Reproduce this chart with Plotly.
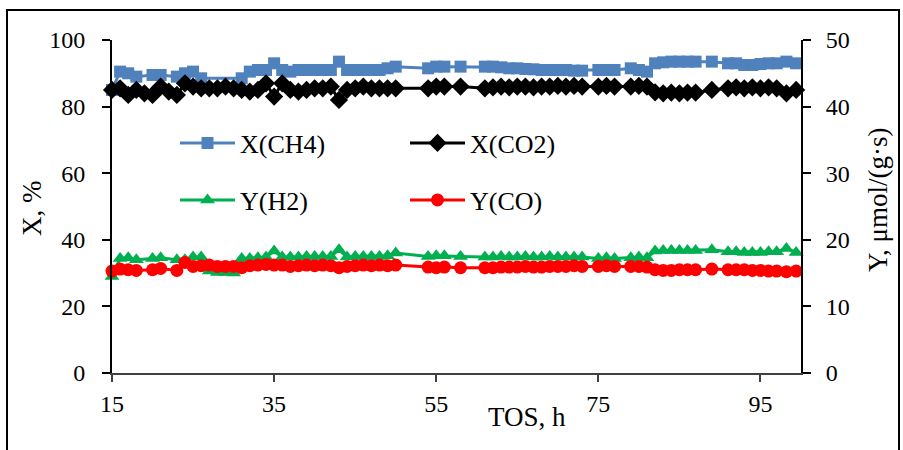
import plotly.graph_objects as go

# Time on stream (h)
tos = (list(range(15, 51)) + [54, 55, 56, 58] + list(range(61, 74)) + [75, 76, 77]
       + list(range(79, 88)) + [89] + list(range(91, 98)) + [98.2, 99.4])

# X(CH4), %  (left axis)
x_ch4 = ([85, 90.5, 90, 89, None, 89.5, 89.5, None, 89, 90, 90.5, 88.5, None, None, None, None,
          88.5, 90.5, 91, 91, 93, 91, 90.5, 91, 91, 91, 91, 91, 93.5, 91, 91, 91, 91, 91, 91.5, 92]
         + [91.5, 92, 92, 92]
         + [92, 92, 91.8, 91.5, 91.5, 91.3, 91.2, 91, 91, 91, 91, 90.8, 90.8]
         + [91, 91, 91]
         + [91.5, 91, 90.5, 93, 93.3, 93.5, 93.5, 93.5, 93.5]
         + [93.5]
         + [93, 93, 92.5, 92.5, 92.8, 93, 93]
         + [93.5, 93])

# X(CO2), %  (left axis)
x_co2 = ([85, 85.5, 83.5, 85, 84, 83.5, 86, 84.5, 83.5, 87, 86, 85.5, 85.5, 85.5, 86, 85.5,
          85, 84.5, 85, 87, 83, 87, 85, 84.5, 85, 85.5, 85.5, 86, 82, 85, 85.5, 86, 85.5, 85.5, 85.5, 85.5]
         + [85.5, 86, 86, 86]
         + [85.5, 85.8, 86, 85.8, 86, 86, 85.8, 86, 86, 86.2, 86, 86.2, 86]
         + [86, 86.2, 86]
         + [86, 86.2, 86, 84.3, 84, 84.2, 84, 84.2, 84.2]
         + [85]
         + [85.5, 85.8, 85.5, 85.8, 85.5, 85.8, 85.5]
         + [84, 85])

# Y(H2), umol/(g s)  (right axis)
y_h2 = ([14.5, 17.2, 17.3, 17.0, None, 17.2, 17.3, None, 17.0, 17.0, 17.4, 17.4, 15.3, 15.1, 15.1, 15.0,
         17.2, 17.2, 17.3, 17.4, 18.3, 17.4, 17.4, 17.4, 17.5, 17.5, 17.5, 17.5, 18.5, 17.4, 17.5, 17.5,
         17.5, 17.5, 17.6, 18.0]
        + [17.5, 17.6, 17.6, 17.5]
        + [17.4, 17.4, 17.5, 17.4, 17.4, 17.5, 17.4, 17.4, 17.5, 17.4, 17.4, 17.4, 17.4]
        + [17.2, 17.3, 17.2]
        + [17.3, 17.4, 17.3, 18.3, 18.4, 18.4, 18.4, 18.4, 18.4]
        + [18.5]
        + [18.2, 18.2, 18.1, 18.1, 18.1, 18.2, 18.2]
        + [18.7, 18.1])

# Y(CO), umol/(g s)  (right axis)
y_co = ([15.3, 15.6, 15.5, 15.4, None, 15.5, 15.7, None, 15.4, 16.6, 16.0, 16.1, 16.2, 16.0, 16.0, 16.0,
         15.8, 16.1, 16.2, 16.3, 16.2, 16.2, 16.0, 16.1, 16.2, 16.1, 16.2, 16.1, 15.8, 16.0, 16.1, 16.2,
         16.1, 16.2, 16.1, 16.2]
        + [15.9, 15.8, 15.9, 15.8]
        + [15.8, 15.8, 15.9, 15.9, 15.9, 16.0, 15.9, 15.9, 16.0, 16.0, 16.0, 16.1, 16.0]
        + [16.0, 16.1, 16.0]
        + [16.0, 16.0, 15.9, 15.5, 15.4, 15.4, 15.5, 15.5, 15.5]
        + [15.6]
        + [15.5, 15.5, 15.5, 15.4, 15.4, 15.3, 15.3]
        + [15.2, 15.3])

x_ticks = [15, 35, 55, 75, 95]
yl_ticks = [0, 20, 40, 60, 80, 100]
yr_ticks = [0, 10, 20, 30, 40, 50]

FONT = "Liberation Serif"

# plot-area pixel geometry
L, R, T, B = 112, 801, 40, 373
W, H = 903, 450
def px(p):
    return (p - L) / (R - L)
def py(p):
    return (B - p) / (B - T)

fig = go.Figure()
fig.add_trace(go.Scatter(x=tos, y=x_ch4, name="X(CH4)", mode="lines+markers", connectgaps=True,
                         line=dict(color="#4F81BD", width=3),
                         marker=dict(symbol="square", size=12, color="#4F81BD"),
                         cliponaxis=False, legend="legend"))
fig.add_trace(go.Scatter(x=tos, y=x_co2, name="X(CO2)", mode="lines+markers", connectgaps=True,
                         line=dict(color="#000000", width=3),
                         marker=dict(symbol="diamond", size=14, color="#000000"),
                         cliponaxis=False, legend="legend2"))
fig.add_trace(go.Scatter(x=tos, y=y_h2, name="Y(H2)", mode="lines+markers", connectgaps=True,
                         line=dict(color="#00B050", width=3),
                         marker=dict(symbol="triangle-up", size=13, color="#00B050"),
                         cliponaxis=False, yaxis="y2", legend="legend3"))
fig.add_trace(go.Scatter(x=tos, y=y_co, name="Y(CO)", mode="lines+markers", connectgaps=True,
                         line=dict(color="#FF0000", width=3),
                         marker=dict(symbol="circle", size=13, color="#FF0000"),
                         cliponaxis=False, yaxis="y2", legend="legend4"))

tickfont = dict(family=FONT, size=24, color="black")
legfont = dict(family=FONT, size=26, color="black")
titlefont = dict(family=FONT, size=27, color="black")

def leg(xp, yp):
    return dict(x=px(xp), y=py(yp), xanchor="left", yanchor="middle", itemwidth=55,
                bgcolor="rgba(0,0,0,0)", font=legfont, borderwidth=0)

fig.update_layout(
    width=W, height=H,
    margin=dict(l=L, r=W - R, t=T, b=H - B),
    paper_bgcolor="white", plot_bgcolor="white",
    font=dict(family=FONT, size=24, color="black"),
    xaxis=dict(range=[15, 100], tickvals=x_ticks, ticks="outside", ticklen=7, tickwidth=1.5,
               tickcolor="#404040", showline=True, linecolor="#404040", linewidth=1.5,
               showgrid=False, zeroline=False, tickfont=tickfont, ticklabelstandoff=1),
    yaxis=dict(range=[0, 100], tickvals=yl_ticks, ticks="outside", ticklen=8, tickwidth=1.5,
               tickcolor="black", showline=True, linecolor="black", linewidth=2,
               showgrid=False, zeroline=False, tickfont=tickfont, ticklabelstandoff=12),
    yaxis2=dict(range=[0, 50], tickvals=yr_ticks, overlaying="y", side="right", ticks="outside",
                ticklen=8, tickwidth=1.5, tickcolor="black", showline=True, linecolor="black",
                linewidth=2, showgrid=False, zeroline=False, tickfont=tickfont,
                ticklabelstandoff=10),
    legend=leg(175, 143),
    legend2=leg(405, 143),
    legend3=leg(175, 200),
    legend4=leg(405, 200),
    showlegend=True,
)

fig.add_annotation(text="X, %", xref="paper", yref="paper", x=px(32), y=py(208),
                   textangle=-90, showarrow=False, font=titlefont,
                   xanchor="center", yanchor="middle")
fig.add_annotation(text="Y, μmol/(g·s)", xref="paper", yref="paper", x=px(878), y=py(200),
                   textangle=-90, showarrow=False, font=titlefont,
                   xanchor="center", yanchor="middle")
fig.add_annotation(text="TOS, h", xref="paper", yref="paper", x=px(527), y=py(417),
                   showarrow=False, font=titlefont,
                   xanchor="center", yanchor="middle")

fig.add_shape(type="rect", xref="paper", yref="paper",
              x0=px(7), x1=px(899), y0=py(470), y1=py(10),
              line=dict(color="black", width=2), fillcolor="rgba(0,0,0,0)", layer="above")

fig.write_html("out.html")
